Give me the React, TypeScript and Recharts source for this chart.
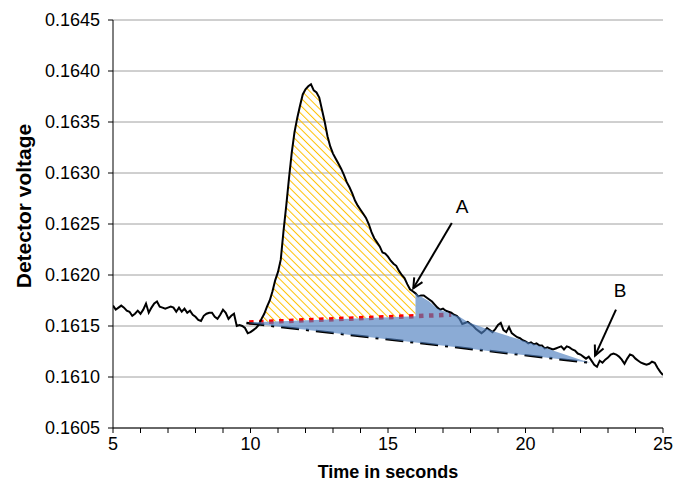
import React from 'react';
import {
  ComposedChart,
  Line,
  Area,
  XAxis,
  YAxis,
  CartesianGrid,
  ReferenceLine,
  ReferenceDot,
  Label,
} from 'recharts';

// detector trace, one sample every 0.1 s
const times = [
  5.0, 5.1, 5.2, 5.3, 5.4, 5.5, 5.6, 5.7, 5.8, 5.9,
  6.0, 6.1, 6.2, 6.3, 6.4, 6.5, 6.6, 6.7, 6.8, 6.9,
  7.0, 7.1, 7.2, 7.3, 7.4, 7.5, 7.6, 7.7, 7.8, 7.9,
  8.0, 8.1, 8.2, 8.3, 8.4, 8.5, 8.6, 8.7, 8.8, 8.9,
  9.0, 9.1, 9.2, 9.3, 9.4, 9.5, 9.6, 9.7, 9.8, 9.9,
  10.0, 10.1, 10.2, 10.3, 10.4, 10.5, 10.6, 10.7, 10.8, 10.9,
  11.0, 11.1, 11.2, 11.3, 11.4, 11.5, 11.6, 11.7, 11.8, 11.9,
  12.0, 12.1, 12.2, 12.3, 12.4, 12.5, 12.6, 12.7, 12.8, 12.9,
  13.0, 13.1, 13.2, 13.3, 13.4, 13.5, 13.6, 13.7, 13.8, 13.9,
  14.0, 14.1, 14.2, 14.3, 14.4, 14.5, 14.6, 14.7, 14.8, 14.9,
  15.0, 15.1, 15.2, 15.3, 15.4, 15.5, 15.6, 15.7, 15.8, 15.9,
  16.0, 16.1, 16.2, 16.3, 16.4, 16.5, 16.6, 16.7, 16.8, 16.9,
  17.0, 17.1, 17.2, 17.3, 17.4, 17.5, 17.6, 17.7, 17.8, 17.9,
  18.0, 18.1, 18.2, 18.3, 18.4, 18.5, 18.6, 18.7, 18.8, 18.9,
  19.0, 19.1, 19.2, 19.3, 19.4, 19.5, 19.6, 19.7, 19.8, 19.9,
  20.0, 20.1, 20.2, 20.3, 20.4, 20.5, 20.6, 20.7, 20.8, 20.9,
  21.0, 21.1, 21.2, 21.3, 21.4, 21.5, 21.6, 21.7, 21.8, 21.9,
  22.0, 22.1, 22.2, 22.3, 22.4, 22.5, 22.6, 22.7, 22.8, 22.9,
  23.0, 23.1, 23.2, 23.3, 23.4, 23.5, 23.6, 23.7, 23.8, 23.9,
  24.0, 24.1, 24.2, 24.3, 24.4, 24.5, 24.6, 24.7, 24.8, 24.9,
  25.0,
];

const volts = [
  0.16170, 0.16166, 0.16168, 0.16170, 0.16168, 0.16165, 0.16164, 0.16160, 0.16162, 0.16165,
  0.16162, 0.16166, 0.16172, 0.16163, 0.16168, 0.16172, 0.16174, 0.16169, 0.16168, 0.16167,
  0.16168, 0.16169, 0.16168, 0.16164, 0.16168, 0.16164, 0.16167, 0.16163, 0.16165, 0.16161,
  0.16159, 0.16156, 0.16155, 0.16160, 0.16162, 0.16163, 0.16163, 0.16159, 0.16157, 0.16161,
  0.16166, 0.16163, 0.16157, 0.16160, 0.16162, 0.16150, 0.16151, 0.16150, 0.16148, 0.16143,
  0.16144, 0.16146, 0.16148, 0.16151, 0.16157, 0.16162, 0.16169, 0.16175, 0.16184, 0.16195,
  0.16203, 0.16215, 0.16243, 0.16268, 0.16295, 0.16320, 0.16340, 0.16354, 0.16366, 0.16377,
  0.16382, 0.16385, 0.16387, 0.16381, 0.16379, 0.16374, 0.16362, 0.16350, 0.16336, 0.16326,
  0.16319, 0.16314, 0.16309, 0.16304, 0.16298, 0.16291, 0.16286, 0.16280, 0.16273, 0.16268,
  0.16264, 0.16260, 0.16256, 0.16250, 0.16242, 0.16236, 0.16232, 0.16228, 0.16222, 0.16221,
  0.16218, 0.16214, 0.16211, 0.16209, 0.16204, 0.16200, 0.16197, 0.16191, 0.16186, 0.16184,
  0.16182, 0.16179, 0.16180, 0.16180, 0.16178, 0.16176, 0.16174, 0.16171, 0.16168, 0.16166,
  0.16167, 0.16165, 0.16164, 0.16163, 0.16161, 0.16160, 0.16157, 0.16152, 0.16153, 0.16154,
  0.16152, 0.16150, 0.16147, 0.16145, 0.16143, 0.16145, 0.16148, 0.16146, 0.16144, 0.16147,
  0.16151, 0.16153, 0.16146, 0.16144, 0.16149, 0.16143, 0.16141, 0.16139, 0.16138, 0.16136,
  0.16135, 0.16133, 0.16134, 0.16132, 0.16133, 0.16131, 0.16131, 0.16128, 0.16129, 0.16128,
  0.16127, 0.16128, 0.16129, 0.16130, 0.16127, 0.16130, 0.16129, 0.16127, 0.16126, 0.16123,
  0.16122, 0.16120, 0.16118, 0.16120, 0.16116, 0.16112, 0.16110, 0.16116, 0.16114, 0.16117,
  0.16119, 0.16122, 0.16123, 0.16122, 0.16120, 0.16117, 0.16113, 0.16118, 0.16122, 0.16121,
  0.16118, 0.16116, 0.16114, 0.16113, 0.16112, 0.16113, 0.16115, 0.16114, 0.16109, 0.16105,
  0.16102,
];

const xTicks = [5, 6, 7, 8, 9, 10, 11, 12, 13, 14, 15, 16, 17, 18, 19, 20, 21, 22, 23, 24, 25];
const yTicks = [0.1605, 0.161, 0.1615, 0.162, 0.1625, 0.163, 0.1635, 0.164, 0.1645];

// red dotted baseline under the peak
const baseTimes = [9.95, 17.3];
const baseVolts = [0.161535, 0.16161];

// dash-dot drift line
const driftTimes = [9.85, 22.35];
const driftVolts = [0.16153, 0.16114];

// top edge of the blue tail area after point A
const tailTimes = [16.0, 16.5, 16.8, 17.6, 17.9, 18.8, 20.0, 22.0, 22.35];
const tailVolts = [0.16182, 0.16174, 0.16167, 0.16159, 0.16154, 0.16145, 0.16135, 0.16117, 0.16114];

const hatchStart = 10.4;
const hatchEnd = 16.0;

const markNames = ['A', 'B'];
const markTail = [[17.32, 0.16251], [23.29, 0.16166]];
const markTip = [[15.92, 0.16187], [22.53, 0.16121]];
const markText = [[17.69, 0.16267], [23.44, 0.16185]];

const FONT = '"Liberation Sans", Arial, sans-serif';

const onLine = (ts: number[], vs: number[], t: number) =>
  vs[0] + ((vs[1] - vs[0]) * (t - ts[0])) / (ts[1] - ts[0]);

const trace = times.map((t, i) => ({ t, v: volts[i] }));
const baseLine = baseTimes.map((t, i) => ({ t, v: baseVolts[i] }));
const driftLine = driftTimes.map((t, i) => ({ t, v: driftVolts[i] }));

const hatchData = trace
  .filter(d => d.t >= hatchStart - 1e-9 && d.t <= hatchEnd + 1e-9)
  .map(d => ({ t: d.t, range: [onLine(baseTimes, baseVolts, d.t), d.v] }));

const blueData = [
  { t: baseTimes[0], range: [onLine(driftTimes, driftVolts, baseTimes[0]), baseVolts[0]] },
  { t: hatchEnd, range: [onLine(driftTimes, driftVolts, hatchEnd), onLine(baseTimes, baseVolts, hatchEnd)] },
  ...tailTimes.map((t, i) => ({ t, range: [onLine(driftTimes, driftVolts, t), tailVolts[i]] })),
];

function Arrow(props: any) {
  const { x1, y1, x2, y2 } = props;
  const a = Math.atan2(y2 - y1, x2 - x1);
  const len = 11;
  const spread = 0.45;
  const hx1 = x2 - len * Math.cos(a - spread);
  const hy1 = y2 - len * Math.sin(a - spread);
  const hx2 = x2 - len * Math.cos(a + spread);
  const hy2 = y2 - len * Math.sin(a + spread);
  return (
    <g stroke="#000" strokeWidth={2} fill="none">
      <line x1={x1} y1={y1} x2={x2} y2={y2} />
      <polyline points={`${hx1},${hy1} ${x2},${y2} ${hx2},${hy2}`} />
    </g>
  );
}

function XTick({ x, y, payload }: any) {
  if (payload.value % 5 !== 0) return <g />;
  return (
    <text x={x} y={y} dy="0.71em" textAnchor="middle" fontSize={18} fontFamily={FONT} fill="#000">
      {payload.value}
    </text>
  );
}

function YTitle(props: any) {
  const vb = props.viewBox || { x: 0, y: 20, width: 113, height: 408 };
  const cx = vb.x + 23;
  const cy = vb.y + vb.height / 2 - 18;
  return (
    <text
      x={cx}
      y={cy}
      transform={`rotate(-90 ${cx} ${cy})`}
      textAnchor="middle"
      dominantBaseline="central"
      fontSize={21}
      fontWeight="bold"
      fontFamily={FONT}
      fill="#000"
    >
      Detector voltage
    </text>
  );
}

function XTitle(props: any) {
  const vb = props.viewBox || { x: 113, y: 428, width: 550, height: 55 };
  const cx = vb.x + vb.width / 2;
  const by = vb.y + 50;
  return (
    <text x={cx} y={by} textAnchor="middle" fontSize={18} fontWeight="bold" fontFamily={FONT} fill="#000">
      Time in seconds
    </text>
  );
}

export default function App() {
  return (
    <div style={{ position: 'absolute', left: 0, top: 0, background: '#fff' }}>
      <ComposedChart width={674} height={483} margin={{ top: 20, right: 11, bottom: 0, left: 0 }}>
        <defs>
          <pattern id="hatch" width="5.5" height="5.5" patternUnits="userSpaceOnUse" patternTransform="rotate(-45)">
            <line x1="0" y1="0" x2="0" y2="5.5" stroke="#FFC000" strokeWidth={2} />
          </pattern>
        </defs>
        <CartesianGrid vertical={false} stroke="#A0A0A0" />
        <XAxis
          dataKey="t"
          type="number"
          domain={[5, 25]}
          ticks={xTicks}
          interval={0}
          height={55}
          tickSize={5}
          tickMargin={4}
          stroke="#000"
          tick={<XTick />}
          allowDataOverflow
        >
          <Label content={<XTitle />} />
        </XAxis>
        <XAxis xAxisId="top" orientation="top" type="number" domain={[5, 25]} height={0} tick={false} tickLine={false} axisLine={{ stroke: '#808080' }} />
        <YAxis
          type="number"
          domain={[0.1605, 0.1645]}
          ticks={yTicks}
          interval={0}
          width={113}
          tickSize={5}
          tickMargin={8}
          stroke="#000"
          tickFormatter={(v: number) => v.toFixed(4)}
          tick={{ fontSize: 18, fontFamily: FONT, fill: '#000' }}
          allowDataOverflow
        >
          <Label content={<YTitle />} />
        </YAxis>
        <YAxis yAxisId="right" orientation="right" type="number" domain={[0.1605, 0.1645]} width={0} tick={false} tickLine={false} axisLine={{ stroke: '#808080' }} />

        <Area data={hatchData} dataKey="range" type="linear" stroke="none" fill="url(#hatch)" fillOpacity={1} isAnimationActive={false} />
        <Line data={baseLine} dataKey="v" type="linear" stroke="#FF0000" strokeWidth={4.5} strokeDasharray="4.5 5.5" dot={false} activeDot={false} isAnimationActive={false} />
        <Line data={driftLine} dataKey="v" type="linear" stroke="#000" strokeWidth={2.5} strokeDasharray="18 7 3 7" dot={false} activeDot={false} isAnimationActive={false} />
        <Line data={trace} dataKey="v" type="linear" stroke="#000" strokeWidth={2} dot={false} activeDot={false} isAnimationActive={false} />
        <Area data={blueData} dataKey="range" type="linear" stroke="none" fill="#4F7FC0" fillOpacity={0.66} isAnimationActive={false} zIndex={450} />

        {markNames.map((name, i) => (
          <ReferenceLine
            key={name}
            segment={[
              { x: markTail[i][0], y: markTail[i][1] },
              { x: markTip[i][0], y: markTip[i][1] },
            ]}
            shape={<Arrow />}
          />
        ))}
        {markNames.map((name, i) => (
          <ReferenceDot
            key={'t' + name}
            x={markText[i][0]}
            y={markText[i][1]}
            r={0}
            shape={(p: any) => (
              <text x={p.cx} y={p.cy} textAnchor="middle" dominantBaseline="central" fontSize={19} fontFamily={FONT} fill="#000">
                {name}
              </text>
            )}
          />
        ))}
      </ComposedChart>
    </div>
  );
}
